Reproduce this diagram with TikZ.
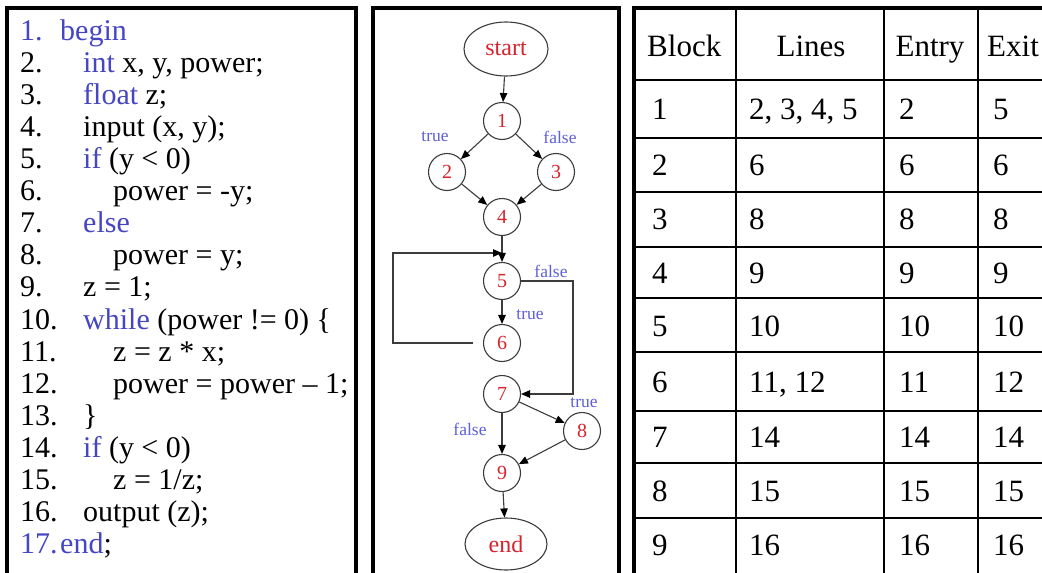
\documentclass[tikz,border=0pt]{standalone}
\usepackage{fontspec}
\setmainfont{Liberation Serif}
\usetikzlibrary{arrows.meta,shapes.geometric}
\definecolor{kwblue}{RGB}{70,70,195}
\definecolor{lblblue}{RGB}{95,95,215}
\definecolor{nodered}{RGB}{215,35,45}
\definecolor{edgegray}{RGB}{60,60,60}
\newcommand{\kw}[1]{\textcolor{kwblue}{#1}}
\begin{document}
\begin{tikzpicture}[x=1pt,y=-1pt,
  panel/.style={draw=black,line width=3.5pt},
  grid/.style={draw=black,line width=2pt},
  code/.style={anchor=base west,inner sep=0pt,font=\fontsize{30}{32}\selectfont},
  cell/.style={anchor=base west,inner sep=0pt,font=\fontsize{31}{33}\selectfont},
  hcell/.style={anchor=base,inner sep=0pt,font=\fontsize{31}{33}\selectfont},
  cnode/.style={circle,draw=edgegray,line width=1.1pt,minimum size=37pt,inner sep=0pt,text=nodered,font=\fontsize{20}{20}\selectfont},
  enode/.style={ellipse,draw=edgegray,line width=1.1pt,minimum width=84pt,minimum height=54pt,inner sep=0pt,text=nodered,font=\fontsize{24}{24}\selectfont},
  elbl/.style={inner sep=0pt,text=lblblue,font=\fontsize{17.5}{17.5}\selectfont},
  arr/.style={draw=edgegray,line width=1.1pt,-{Triangle[length=9pt,width=7.5pt,color=black]}}
]
\useasboundingbox (0,0) rectangle (1042,573);
\clip (0,0) rectangle (1042,573);
\fill[white] (0,0) rectangle (1042,573);

% ---------- panel 1: code ----------
\draw[panel] (7,600) -- (7,8) -- (356,8) -- (356,600);
\foreach \n/\y in {2/72,3/104,4/136,5/168,6/200,7/232,8/264,9/296,10/329,11/361,12/393,13/425,14/457,15/489,16/521}
  \node[code] (ln\n) at (20,\y) {\n.};
\node[code,text=kwblue] (ln1) at (20,40) {1.};
\node[code,text=kwblue] (ln17) at (20,553) {17.};
\node[code] (c1) at (60,40) {\kw{begin}};
\node[code] (c2) at (83,72) {\kw{int} x, y, power;};
\node[code] (c3) at (83,104) {\kw{float} z;};
\node[code] (c4) at (83,136) {input (x, y);};
\node[code] (c5) at (83,168) {\kw{if} (y < 0)};
\node[code] (c6) at (113,200) {power = -y;};
\node[code] (c7) at (83,232) {\kw{else}};
\node[code] (c8) at (113,264) {power = y;};
\node[code] (c9) at (83,296) {z = 1;};
\node[code] (c10) at (83,329) {\kw{while} (power != 0) \{};
\node[code] (c11) at (113,361) {z = z * x;};
\node[code] (c12) at (113,393) {power = power – 1;};
\node[code] (c13) at (83,425) {\}};
\node[code] (c14) at (83,457) {\kw{if} (y < 0)};
\node[code] (c15) at (113,489) {z = 1/z;};
\node[code] (c16) at (83,521) {output (z);};
\node[code] (c17) at (60,553) {\kw{end};};

% ---------- panel 2: flow graph ----------
\draw[panel] (373,600) -- (373,8) -- (619,8) -- (619,600);
\node[enode] (start) at (506,49) {start};
\node[cnode] (n1) at (502,121) {1};
\node[cnode] (n2) at (447,172) {2};
\node[cnode] (n3) at (556,172) {3};
\node[cnode] (n4) at (502,217) {4};
\node[cnode] (n5) at (502,281) {5};
\node[cnode] (n6) at (502,343) {6};
\node[cnode] (n7) at (502,394) {7};
\node[cnode] (n8) at (582,431) {8};
\node[cnode] (n9) at (502,473) {9};
\node[enode,minimum width=82pt,minimum height=52pt] (end) at (506,544) {end};
\coordinate (lp) at (393,253);
\coordinate (j5) at (502,253);
\coordinate (fc) at (573,340);
\draw[arr] (start) -- (n1);
\draw[arr] (n1) -- (n2);
\draw[arr] (n1) -- (n3);
\draw[arr] (n2) -- (n4);
\draw[arr] (n3) -- (n4);
\draw[arr] (n4) -- (n5);
\draw[arr] (n5) -- (n6);
\draw[arr,shorten <=10pt] (n6.west) -| (lp) -- (j5);
\draw[arr] (n5.east) -| (fc) |- (n7.east);
\draw[arr] (n7) -- (n8);
\draw[arr] (n7) -- (n9);
\draw[arr] (n8) -- (n9);
\draw[arr] (n9) -- (end);
\node[elbl] (t12) at (435,137) {true};
\node[elbl] (f13) at (560,137) {false};
\node[elbl] (f57) at (551,271) {false};
\node[elbl] (t56) at (530,315) {true};
\node[elbl] (t78) at (584,403) {true};
\node[elbl] (f79) at (470,429) {false};

% ---------- panel 3: table ----------
\draw[panel] (634,600) -- (634,8) -- (1060,8);
\foreach \x in {736,884,978} \draw[grid] (\x,8) -- (\x,600);
\foreach \y in {80,138,192,247,298,352,411,463,518} \draw[grid] (634,\y) -- (1060,\y);
\node[cell] (hb) at (647,56) {Block};
\node[hcell] (hl) at (811,56) {Lines};
\node[hcell] (he) at (930,56) {Entry};
\node[cell] (hx) at (987,56) {Exit};
\foreach \b/\l/\en/\ex/\y in {1/{2, 3, 4, 5}/2/5/119, 2/6/6/6/175, 3/8/8/8/229, 4/9/9/9/283, 5/10/10/10/336, 6/{11, 12}/11/12/392, 7/14/14/14/447, 8/15/15/15/501, 9/16/16/16/555}{
  \node[cell] (b\b) at (652,\y) {\b};
  \node[cell] (l\b) at (749,\y) {\l};
  \node[cell] (e\b) at (899,\y) {\en};
  \node[cell] (x\b) at (993,\y) {\ex};
}
\end{tikzpicture}
\end{document}
